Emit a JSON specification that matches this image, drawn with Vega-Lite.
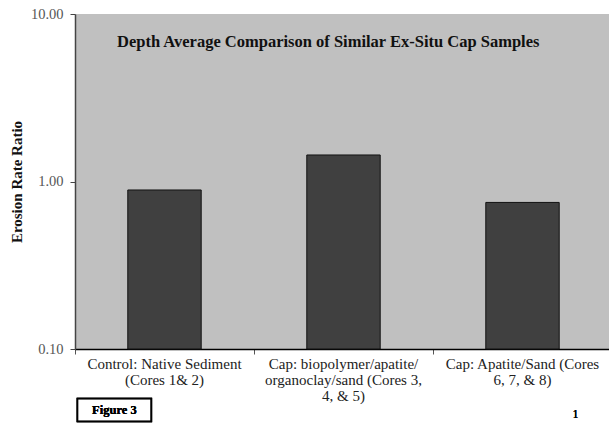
{
  "$schema": "https://vega.github.io/schema/vega-lite/v6.json",
  "autosize": "none",
  "width": 537,
  "height": 335,
  "padding": {"left": 75, "top": 14, "right": 0, "bottom": 79},
  "background": "white",
  "config": {
    "view": {"fill": "#c0c0c0", "stroke": null},
    "font": "Liberation Serif"
  },
  "title": {
    "text": "Depth Average Comparison of Similar Ex-Situ Cap Samples",
    "frame": "group",
    "anchor": "start",
    "orient": "top",
    "font": "Liberation Serif",
    "fontSize": 16.5,
    "fontWeight": "bold",
    "color": "#111",
    "baseline": "alphabetic",
    "offset": -31,
    "dy": 26,
    "dx": 42
  },
  "data": {
    "values": [
      {"category": "Control: Native Sediment|(Cores 1& 2)", "ratio": 0.89},
      {"category": "Cap: biopolymer/apatite/|organoclay/sand (Cores 3,|4, & 5)", "ratio": 1.44},
      {"category": "Cap: Apatite/Sand (Cores|6, 7, & 8)", "ratio": 0.75}
    ]
  },
  "layer": [
    {
      "mark": {"type": "bar", "fill": "#404040", "stroke": "#111", "strokeWidth": 1, "width": {"band": 0.41}},
      "encoding": {
        "x": {
          "field": "category",
          "type": "nominal",
          "sort": null,
          "scale": {"paddingInner": 0, "paddingOuter": 0},
          "axis": {
            "title": null,
            "labelAngle": 0,
            "labelExpr": "split(datum.value, '|')",
            "labelFont": "Liberation Serif",
            "labelFontSize": 15,
            "labelLineHeight": 16,
            "labelColor": "#222",
            "labelBaseline": "top",
            "labelPadding": 2,
            "labelLimit": 0,
            "bandPosition": 0,
            "domainColor": "#000",
            "domainWidth": 1.5,
            "tickColor": "#555",
            "tickSize": 5,
            "labelOffset": 0,
            "grid": false
          }
        },
        "y": {
          "field": "ratio",
          "type": "quantitative",
          "scale": {"type": "log", "domain": [0.1, 10]},
          "axis": {
            "title": "Erosion Rate Ratio",
            "titleFont": "Liberation Serif",
            "titleFontSize": 15,
            "titleFontWeight": "bold",
            "titleColor": "#111",
            "titlePadding": 6,
            "values": [0.1, 1, 10],
            "format": ".2f",
            "labelFont": "Liberation Serif",
            "labelFontSize": 14.5,
            "labelColor": "#555",
            "labelPadding": 7,
            "tickSize": 5,
            "tickColor": "#444",
            "domainColor": "#444",
            "domainWidth": 1.5,
            "grid": false
          }
        },
        "y2": {"datum": 0.1}
      }
    },
    {
      "mark": {"type": "point", "shape": "M-1,-0.31L1,-0.31L1,0.31L-1,0.31Z", "filled": false, "stroke": "#000", "strokeWidth": 1.5, "opacity": 1, "size": 5476},
      "encoding": {
        "x": {"datum": "Control: Native Sediment|(Cores 1& 2)", "bandPosition": 0.22},
        "y": {"datum": 0.0432}
      }
    },
    {
      "mark": {"type": "text", "font": "Liberation Serif", "fontSize": 12.5, "fontWeight": "bold", "color": "#000", "align": "center", "baseline": "middle"},
      "encoding": {
        "x": {"datum": "Control: Native Sediment|(Cores 1& 2)", "bandPosition": 0.22},
        "y": {"datum": 0.0432},
        "text": {"value": "Figure 3"}
      }
    },
    {
      "mark": {"type": "text", "font": "Liberation Serif", "fontSize": 12, "color": "#000", "align": "center", "baseline": "middle"},
      "encoding": {
        "x": {"datum": "Cap: Apatite/Sand (Cores|6, 7, & 8)", "bandPosition": 0.796},
        "y": {"datum": 0.0409},
        "text": {"value": "1"}
      }
    }
  ]
}
